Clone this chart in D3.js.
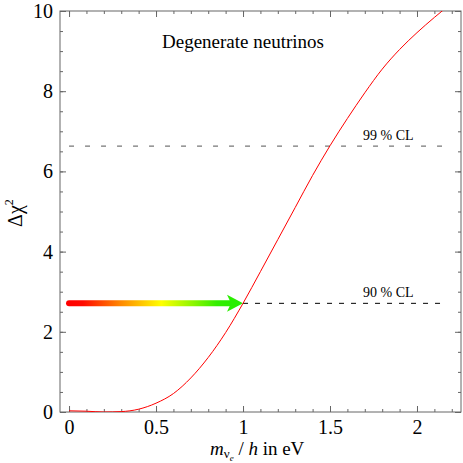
<!DOCTYPE html>
<html>
<head>
<meta charset="utf-8">
<script src="https://cdn.jsdelivr.net/npm/d3@7"></script>
<style>
  html, body { margin: 0; padding: 0; background: #fff; }
  svg text { font-family: "Liberation Serif", "Times New Roman", serif !important; }
</style>
</head>
<body>
<svg id="chart" width="463" height="463"></svg>
<script>
// --- Data ---
const massValues = [0, 0.1, 0.2, 0.3, 0.4, 0.5, 0.6, 0.7, 0.8, 0.9, 1.0, 1.1, 1.2, 1.3, 1.4, 1.5, 1.6, 1.7, 1.8, 1.9, 2.0, 2.1, 2.15];
const chi2Values = [0.03, 0.02, 0.0, 0.01, 0.07, 0.22, 0.46, 0.85, 1.36, 1.98, 2.71, 3.5, 4.3, 5.1, 5.9, 6.64, 7.32, 7.96, 8.55, 9.04, 9.46, 9.84, 10.02];
const clLevels = [2.71, 6.63];
const clLabels = ["90 % CL", "99 % CL"];
const clStart = [1.0, 0];
const clEnd = 2.15;
const arrowRange = [0, 1.0];
const xTicks = [0, 0.5, 1, 1.5, 2];
const yTicks = [0, 2, 4, 6, 8, 10];

const margin = { top: 11, right: 2, bottom: 51, left: 60 },
      width = 463 - margin.left - margin.right,
      height = 463 - margin.top - margin.bottom;

const svg = d3.select("#chart");
const g = svg.append("g").attr("transform", `translate(${margin.left},${margin.top})`);

const x = d3.scaleLinear().domain([-0.052, 2.253]).range([0, width]);
const y = d3.scaleLinear().domain([0, 10]).range([height, 0]);

const frameColor = "#666";

// clip
svg.append("defs").append("clipPath").attr("id", "clip")
  .append("rect").attr("width", width).attr("height", height);

// minor ticks (every 0.1 on x, 0.5 on y)
const xMinor = d3.range(0, 2.25, 0.1).map(v => +v.toFixed(2));
const yMinor = d3.range(0, 10.01, 0.5);

function styleAxis(sel) {
  sel.attr("font-family", null);
  sel.select(".domain").remove();
  sel.selectAll(".tick line").attr("stroke", frameColor);
}

g.append("g").attr("transform", `translate(0,${height})`)
  .call(d3.axisBottom(x).tickValues(xMinor).tickSize(-3).tickFormat(""))
  .call(styleAxis);
g.append("g")
  .call(d3.axisTop(x).tickValues(xMinor).tickSize(-3).tickFormat(""))
  .call(styleAxis);
g.append("g")
  .call(d3.axisLeft(y).tickValues(yMinor).tickSize(-3).tickFormat(""))
  .call(styleAxis);
g.append("g").attr("transform", `translate(${width},0)`)
  .call(d3.axisRight(y).tickValues(yMinor).tickSize(-3).tickFormat(""))
  .call(styleAxis);

// major ticks
const xAxis = g.append("g").attr("transform", `translate(0,${height})`)
  .call(d3.axisBottom(x).tickValues(xTicks).tickSize(-6).tickPadding(8).tickFormat(d => String(d)))
  .call(styleAxis);
xAxis.selectAll("text").attr("font-size", 20).attr("fill", "#000");
g.append("g")
  .call(d3.axisTop(x).tickValues(xTicks).tickSize(-6).tickFormat(""))
  .call(styleAxis);

const yAxis = g.append("g")
  .call(d3.axisLeft(y).tickValues(yTicks).tickSize(-6).tickPadding(7).tickFormat(d => String(d)))
  .call(styleAxis);
yAxis.selectAll("text").attr("font-size", 20).attr("fill", "#000");
g.append("g").attr("transform", `translate(${width},0)`)
  .call(d3.axisRight(y).tickValues(yTicks).tickSize(-6).tickFormat(""))
  .call(styleAxis);

// frame
g.append("rect")
  .attr("width", width).attr("height", height)
  .attr("fill", "none").attr("stroke", frameColor).attr("stroke-width", 1);

// confidence level lines
g.append("line")
  .attr("x1", x(clStart[1])).attr("x2", x(clEnd))
  .attr("y1", y(clLevels[1])).attr("y2", y(clLevels[1]))
  .attr("stroke", "#777").attr("stroke-width", 1.3).attr("stroke-dasharray", "5,11");
g.append("line")
  .attr("x1", x(clStart[0])).attr("x2", x(clEnd))
  .attr("y1", y(clLevels[0])).attr("y2", y(clLevels[0]))
  .attr("stroke", "#000").attr("stroke-width", 1).attr("stroke-dasharray", "5,7");

clLevels.forEach((lv, i) => {
  g.append("text")
    .attr("x", 303).attr("y", y(lv) - 6)
    .attr("font-size", 14)
    .text(clLabels[i]);
});

// gradient arrow at the 90% level
const grad = svg.select("defs").append("linearGradient")
  .attr("id", "arrowGrad")
  .attr("gradientUnits", "userSpaceOnUse")
  .attr("x1", x(arrowRange[0])).attr("x2", x(arrowRange[1]))
  .attr("y1", 0).attr("y2", 0);
[[0, "#ff0000"], [0.08, "#ff0a00"], [0.3, "#ff8a00"], [0.53, "#ffff00"],
 [0.72, "#88f500"], [0.85, "#33ee00"], [1, "#22ee00"]]
  .forEach(([o, c]) => grad.append("stop").attr("offset", o).attr("stop-color", c));

const ay = y(clLevels[0]);
const tipX = x(arrowRange[1]);
g.append("line")
  .attr("x1", x(arrowRange[0])).attr("x2", tipX - 11)
  .attr("y1", ay).attr("y2", ay)
  .attr("stroke", "url(#arrowGrad)").attr("stroke-width", 6)
  .attr("stroke-linecap", "round");
g.append("path")
  .attr("d", `M${tipX},${ay} L${tipX - 16},${ay - 8.5} L${tipX - 12},${ay} L${tipX - 16},${ay + 8.5} Z`)
  .attr("fill", "#2aee00");

// chi-square curve
const line = d3.line()
  .x((d, i) => x(massValues[i]))
  .y(d => y(d))
  .curve(d3.curveMonotoneX);
g.append("path")
  .datum(chi2Values)
  .attr("clip-path", "url(#clip)")
  .attr("fill", "none")
  .attr("stroke", "#ff0000")
  .attr("stroke-width", 1)
  .attr("d", line);

// title
g.append("text")
  .attr("x", 102).attr("y", 37)
  .attr("font-size", 19)
  .text("Degenerate neutrinos");

// axis labels
const yl = svg.append("text")
  .attr("transform", "translate(22,213) rotate(-90)")
  .attr("text-anchor", "middle")
  .attr("font-size", 20);
yl.append("tspan").text("Δχ");
yl.append("tspan").attr("font-size", 12).attr("dy", -9).text("2");

const xl = svg.append("text")
  .attr("x", 210).attr("y", 455)
  .attr("font-size", 19);
xl.append("tspan").attr("font-style", "italic").text("m");
xl.append("tspan").attr("font-size", 13).attr("dy", 3).text("ν");
xl.append("tspan").attr("font-size", 9).attr("font-style", "italic").attr("dy", 3).text("e");
xl.append("tspan").attr("dy", -6).text(" / ");
xl.append("tspan").attr("font-style", "italic").text("h");
xl.append("tspan").text(" in eV");
</script>
</body>
</html>
